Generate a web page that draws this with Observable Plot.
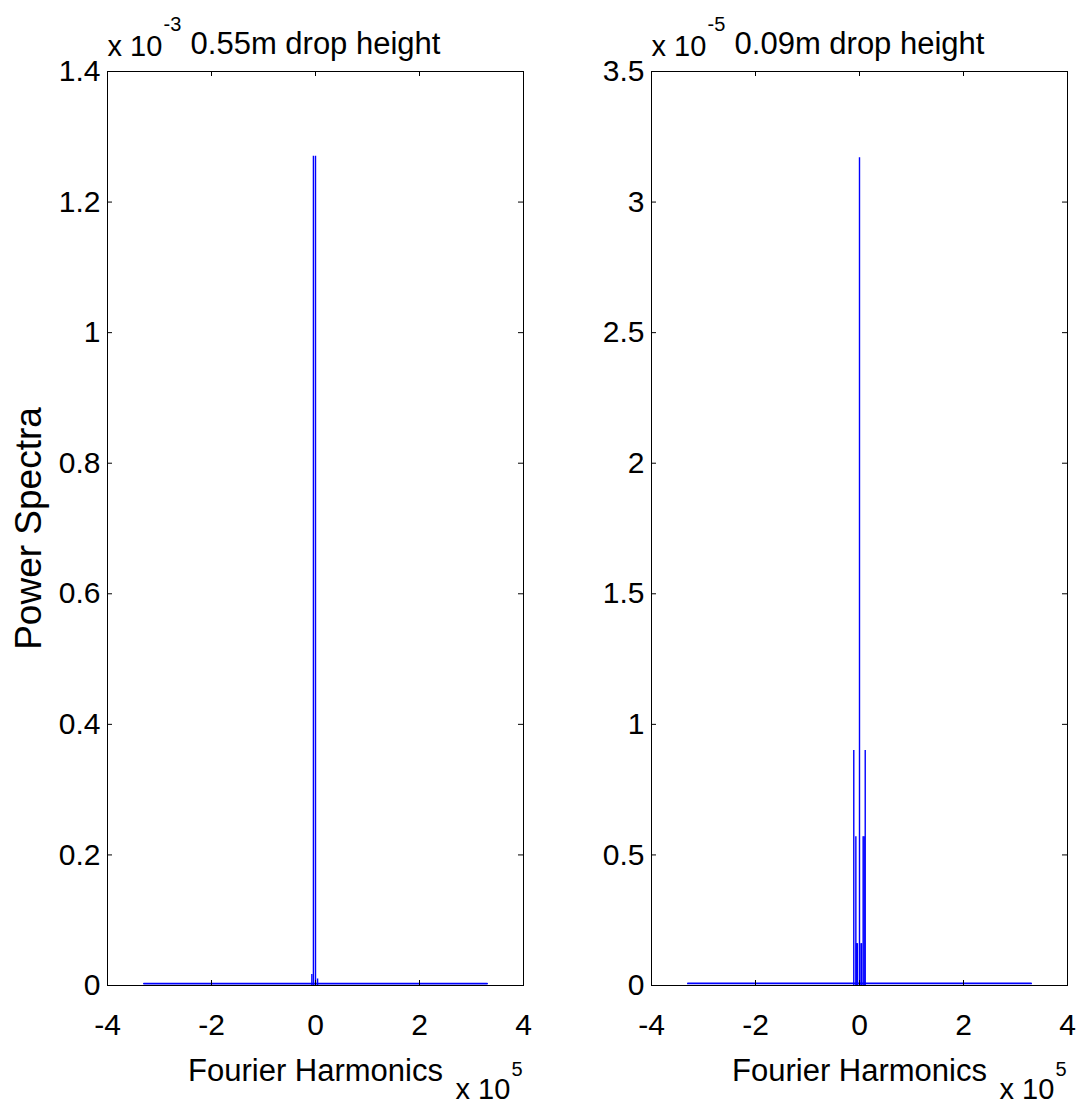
<!DOCTYPE html>
<html><head><meta charset="utf-8">
<script src="https://cdn.jsdelivr.net/npm/d3@7"></script>
<script src="https://cdn.jsdelivr.net/npm/@observablehq/plot@0.6"></script>
<style>
body{margin:0;background:#fff}
#wrap{position:relative;width:1076px;height:1106px;display:flex}
</style>
</head><body><div id="wrap"></div>
<script>
// ---- data (x in units of 1e5, y in units of the panel exponent) ----
const xTicks = [-4, -2, 0, 2, 4];
const leftYTicks = [0, 0.2, 0.4, 0.6, 0.8, 1, 1.2, 1.4];
const rightYTicks = [0, 0.5, 1, 1.5, 2, 2.5, 3, 3.5];

const baselineX = [-3.3, 3.3];
const leftBaselineY = [0.003, 0.003];
const rightBaselineY = [0.008, 0.008];

const leftSpikeX = [-0.07, -0.04, 0.0, 0.04];
const leftSpikeY = [0.017, 1.27, 1.27, 0.01];

const rightSpikeX = [-0.11, -0.07, -0.06, -0.05, -0.04, 0.0, 0.03, 0.04, 0.07, 0.09, 0.11];
const rightSpikeY = [0.9, 0.57, 0.16, 0.16, 0.16, 3.17, 0.16, 0.16, 0.57, 0.57, 0.9];

const panels = [
  {title: "0.55m drop height", exp: "-3", yTicks: leftYTicks, yMax: 1.4,
   baseY: leftBaselineY, spikeX: leftSpikeX, spikeY: leftSpikeY, ylabel: "Power Spectra",
   marginLeft: 107, marginRight: 15},
  {title: "0.09m drop height", exp: "-5", yTicks: rightYTicks, yMax: 3.5,
   baseY: rightBaselineY, spikeX: rightSpikeX, spikeY: rightSpikeY, ylabel: null,
   marginLeft: 113, marginRight: 9}
];

const W = 538, H = 1106, MT = 71, MB = 121;
const fmt = d => String(Math.round(d * 100) / 100);
const blue = "#0000ff";

for (const p of panels) {
  const frameW = W - p.marginLeft - p.marginRight;
  const frameH = H - MT - MB;
  const base = baselineX.map((x, i) => ({x, y: p.baseY[i]}));
  const spikes = p.spikeX.map((x, i) => ({x, y: p.spikeY[i]}));
  const marks = [
    Plot.lineY(base, {x: "x", y: "y", stroke: blue, strokeWidth: 1.8}),
    Plot.ruleX(spikes, {x: "x", y1: 0, y2: "y", stroke: blue, strokeWidth: 1.4}),
    Plot.frame({stroke: "#000", strokeWidth: 1}),
    // inward ticks (left/right/bottom/top)
    Plot.tickY(p.yTicks, {y: d => d, insetRight: frameW - 5, stroke: "#000"}),
    Plot.tickY(p.yTicks, {y: d => d, insetLeft: frameW - 5, stroke: "#000"}),
    Plot.tickX(xTicks, {x: d => d, insetTop: frameH - 5, stroke: "#000"}),
    Plot.tickX(xTicks, {x: d => d, insetBottom: frameH - 5, stroke: "#000"}),
    Plot.axisY(p.yTicks, {tickSize: 0, tickPadding: 7, tickFormat: fmt, label: null, fontSize: 30}),
    Plot.axisX(xTicks, {tickSize: 0, tickPadding: 28, tickFormat: fmt, label: null, fontSize: 30}),
    // title and exponent
    Plot.text([p.title], {frameAnchor: "top", dy: -18, lineAnchor: "bottom", fontSize: 31}),
    Plot.text(["x 10"], {frameAnchor: "top-left", textAnchor: "start", dx: 0, dy: -16, lineAnchor: "bottom", fontSize: 29}),
    Plot.text([p.exp], {frameAnchor: "top-left", textAnchor: "start", dx: 56, dy: -41, lineAnchor: "bottom", fontSize: 20}),
    // x label and exponent
    Plot.text(["Fourier Harmonics"], {frameAnchor: "bottom", dy: 95, lineAnchor: "bottom", fontSize: 31}),
    Plot.text(["x 10"], {frameAnchor: "bottom-right", textAnchor: "start", dx: -68, dy: 113, lineAnchor: "bottom", fontSize: 29}),
    Plot.text(["5"], {frameAnchor: "bottom-right", textAnchor: "start", dx: -12, dy: 90, lineAnchor: "bottom", fontSize: 20})
  ];
  if (p.ylabel) {
    marks.push(Plot.text([p.ylabel], {frameAnchor: "left", textAnchor: "middle", rotate: -90, dx: -67, lineAnchor: "bottom", fontSize: 37}));
  }
  const chart = Plot.plot({
    width: W, height: H,
    marginLeft: p.marginLeft, marginRight: p.marginRight, marginTop: MT, marginBottom: MB,
    x: {domain: [-4, 4]},
    y: {domain: [0, p.yMax]},
    style: {fontFamily: "'Liberation Sans', Arial, sans-serif", fontSize: "29px", color: "#000", background: "#fff"},
    marks
  });
  document.getElementById("wrap").appendChild(chart);
}
</script>
</body></html>
